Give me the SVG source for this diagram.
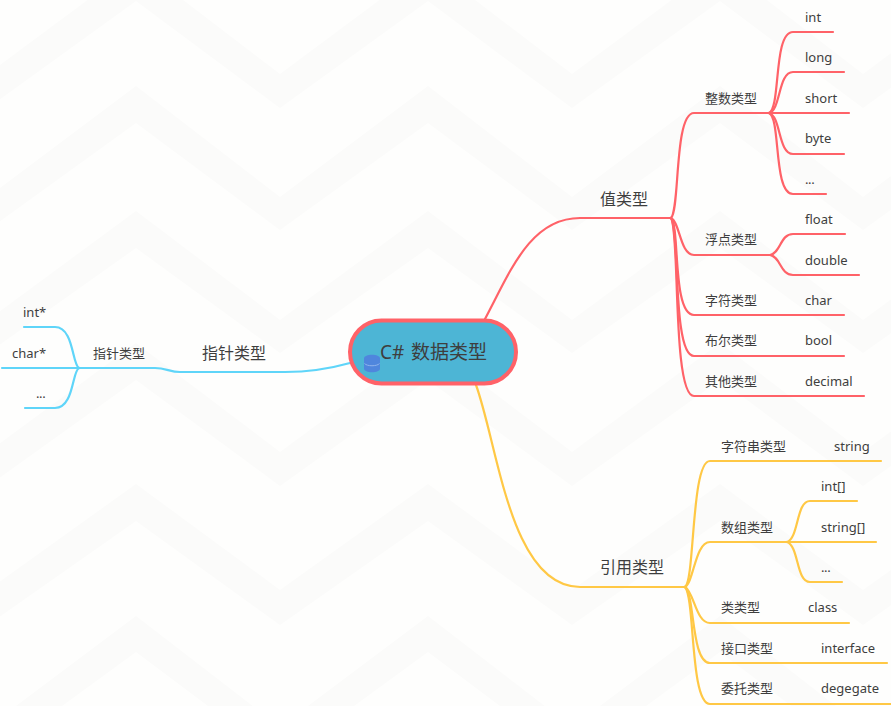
<svg xmlns="http://www.w3.org/2000/svg" width="891" height="706" viewBox="0 0 891 706">
<style>
text{font-family:"Noto Sans","Noto Sans CJK SC",sans-serif;font-size:13px;fill:#3e3e3e}
.m{font-size:16px}
.c{font-size:19px}
.d{letter-spacing:-.4px}
#connectors path{fill:none;stroke-width:2.2;stroke-linecap:round}
.r path{stroke:#ff6268}
.y path{stroke:#ffc845}
.b path{stroke:#5fd5f9}
</style>
<rect width="891" height="706" fill="#fefefd"/>
<g id="background" fill="#fbfbfa">
<path d="M-12 74L136 -36L280 74L428 -36L572 74L720 -36L863 74L1011 -36V1L863 108L720 1L572 108L428 1L280 108L136 1L-12 108Z"/>
<path d="M-12 197L136 86L280 197L428 86L572 197L720 86L863 197L1011 86V123L863 230L720 123L572 230L428 123L280 230L136 123L-12 230Z"/>
<path d="M-12 320L136 211L280 320L428 211L572 320L720 211L863 320L1011 211V248L863 353L720 248L572 353L428 248L280 353L136 248L-12 353Z"/>
<path d="M-12 452L136 343L280 452L428 343L572 452L720 343L863 452L1011 343V380L863 486L720 380L572 486L428 380L280 486L136 380L-12 486Z"/>
<path d="M-12 590L136 484L280 590L428 484L572 590L720 484L863 590L1011 484V521L863 625L720 521L572 625L428 521L280 625L136 521L-12 625Z"/>
<path d="M-12 727L136 616L280 727L428 616L572 727L720 616L863 727L1011 616V652L863 760L720 652L572 760L428 652L280 760L136 652L-12 760Z"/>
</g>
<g id="connectors">
<g class="r">
<path d="M485 319C510 272 530 218 580 218H671"/>
<path d="M671 218C680 210 674 113 694 113H769"/>
<path d="M671 218C680 222 680 255 694 255H770"/>
<path d="M671 218C680 226 672 315 694 315H844"/>
<path d="M671 218C680 228 672 356 694 356H844"/>
<path d="M671 218C680 230 672 396 694 396H864"/>
<path d="M769 113C781 108 773 32 793 32H833"/>
<path d="M769 113C781 110 778 72 793 72H844"/>
<path d="M769 113H849"/>
<path d="M769 113C781 116 778 154 793 154H844"/>
<path d="M769 113C781 118 773 194 793 194H826"/>
<path d="M770 255C781 253 780 234 793 234H845"/>
<path d="M770 255C781 257 780 275 793 275H859"/>
</g>
<g class="y">
<path d="M476 385C498 445 510 587 580 587H685"/>
<path d="M685 587C695 580 691 461 710 461H881"/>
<path d="M685 587C694 582 695 542 710 542H787"/>
<path d="M685 587C694 592 696 623 710 623H849"/>
<path d="M685 587C695 595 691 663 710 663H887"/>
<path d="M685 587C695 598 690 704 710 704H891"/>
<path d="M787 542C799 538 796 501 810 501H857"/>
<path d="M787 542H876"/>
<path d="M787 542C799 546 796 582 810 582H842"/>
</g>
<g class="b">
<path d="M350 363C325 370 305 372 285 372H180C170 372 166 368 155 368H80"/>
<path d="M79 368C72 365 74 327 55 327H24"/>
<path d="M80 368H2"/>
<path d="M79 368C72 371 74 408 55 408H25"/>
</g>
</g>
<g id="root">
<rect x="350" y="320.500" width="166" height="63" rx="31.500" fill="#4db5d5" stroke="#ff6268" stroke-width="4"/>
<g id="root-icon" fill="#4f86dd">
<path d="M364 358.500C364 353.500 380 353.500 380 358.500V368.500C380 373.500 364 373.500 364 368.500Z"/>
<path d="M364.500 363.500C367 366.500 377 366.500 379.500 363.500" fill="none" stroke="#8fb4ec" stroke-width="1"/>
</g>
<text class="c" x="380" y="359">C#<tspan x="411">数据类型</tspan></text>
</g>
<g id="n-value"><text class="m" x="600" y="205">值类型</text></g>
<g id="n-int-type"><text x="705" y="103">整数类型</text></g>
<g id="n-int"><text x="805" y="22">int</text></g>
<g id="n-long"><text x="805" y="62">long</text></g>
<g id="n-short"><text x="805" y="103">short</text></g>
<g id="n-byte"><text x="805" y="143">byte</text></g>
<g id="n-dots1"><text class="d" x="805" y="184">...</text></g>
<g id="n-float-type"><text x="705" y="244">浮点类型</text></g>
<g id="n-float"><text x="805" y="224">float</text></g>
<g id="n-double"><text x="805" y="265">double</text></g>
<g id="n-char-type"><text x="705" y="305">字符类型</text></g>
<g id="n-char"><text x="805" y="305">char</text></g>
<g id="n-bool-type"><text x="705" y="345">布尔类型</text></g>
<g id="n-bool"><text x="805" y="345">bool</text></g>
<g id="n-other-type"><text x="705" y="386">其他类型</text></g>
<g id="n-decimal"><text x="805" y="386">decimal</text></g>
<g id="n-ref"><text class="m" x="600" y="573">引用类型</text></g>
<g id="n-string-type"><text x="721" y="451">字符串类型</text></g>
<g id="n-string"><text x="834" y="451">string</text></g>
<g id="n-array-type"><text x="721" y="532">数组类型</text></g>
<g id="n-intarr"><text x="821" y="491">int[]</text></g>
<g id="n-strarr"><text x="821" y="532">string[]</text></g>
<g id="n-dots2"><text class="d" x="821" y="572">...</text></g>
<g id="n-class-type"><text x="721" y="612">类类型</text></g>
<g id="n-class"><text x="808" y="612">class</text></g>
<g id="n-iface-type"><text x="721" y="653">接口类型</text></g>
<g id="n-iface"><text x="821" y="653">interface</text></g>
<g id="n-deleg-type"><text x="721" y="693">委托类型</text></g>
<g id="n-deleg"><text x="821" y="693">degegate</text></g>
<g id="n-ptr"><text class="m" x="202" y="359">指针类型</text></g>
<g id="n-ptr-type"><text x="93" y="358">指针类型</text></g>
<g id="n-intp"><text x="23" y="317">int*</text></g>
<g id="n-charp"><text x="12" y="358">char*</text></g>
<g id="n-dots3"><text class="d" x="36" y="398">...</text></g>
</svg>
